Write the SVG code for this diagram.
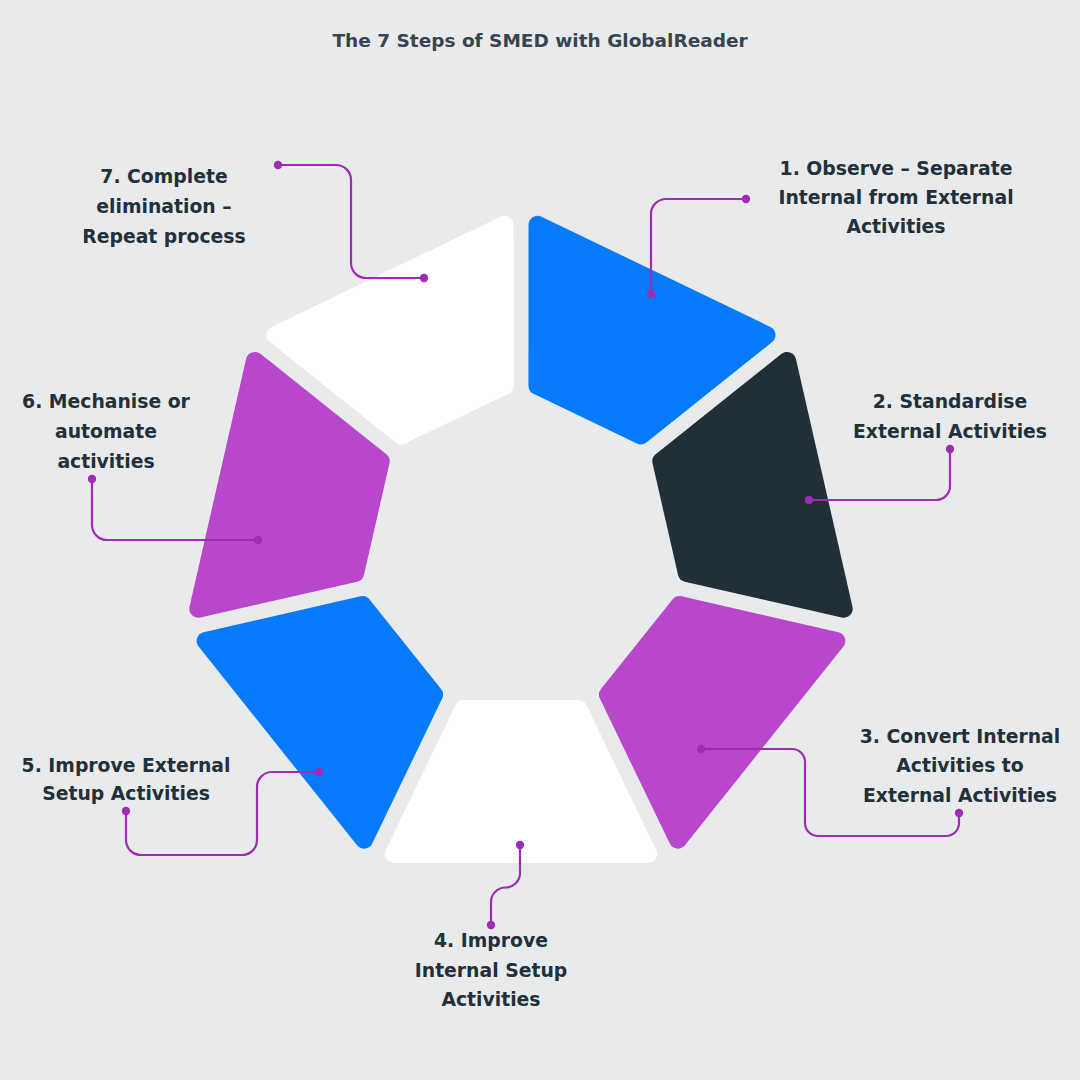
<svg xmlns="http://www.w3.org/2000/svg" xmlns:xlink="http://www.w3.org/1999/xlink" width="1080" height="1080" viewBox="0 0 1080 1080">
<style>
.lbl{font-family:"DejaVu Sans","Liberation Sans",sans-serif;font-weight:700;font-size:18.8px;fill:#22303A;text-anchor:middle}
.title{font-family:"DejaVu Sans","Liberation Sans",sans-serif;font-weight:700;font-size:18.5px;fill:#36454F;text-anchor:middle}
.con{fill:none;stroke:#9E2DB4;stroke-width:2.2}
.dot{fill:#9E2DB4}
</style>
<defs>
<path id="seg" d="M-57.35,148 H57.35 A9 9 0 0 1 65.45,153.09 L135.19,298.1 A9 9 0 0 1 127.08,311 H-127.08 A9 9 0 0 1 -135.19,298.1 L-65.45,153.09 A9 9 0 0 1 -57.35,148 Z"/>
</defs>
<rect width="1080" height="1080" fill="#E9EAEC"/>
<text class="title" x="540" y="47">The 7 Steps of SMED with GlobalReader</text>

<g id="step1">
<use xlink:href="#seg" href="#seg" fill="#057AFB" transform="translate(521,552) rotate(-154.2857)"/>
<text class="lbl" x="896" y="175">1. Observe – Separate</text>
<text class="lbl" x="896" y="204">Internal from External</text>
<text class="lbl" x="896" y="233">Activities</text>
</g>
<g id="step2">
<use xlink:href="#seg" href="#seg" fill="#212F38" transform="translate(521,552) rotate(-102.8571)"/>
<text class="lbl" x="950" y="408">2. Standardise</text>
<text class="lbl" x="950" y="438">External Activities</text>
</g>
<g id="step3">
<use xlink:href="#seg" href="#seg" fill="#B847CB" transform="translate(521,552) rotate(-51.4286)"/>
<text class="lbl" x="960" y="743">3. Convert Internal</text>
<text class="lbl" x="960" y="772">Activities to</text>
<text class="lbl" x="960" y="802">External Activities</text>
</g>
<g id="step4">
<use xlink:href="#seg" href="#seg" fill="#FFFFFF" transform="translate(521,552)"/>
<text class="lbl" x="491" y="947">4. Improve</text>
<text class="lbl" x="491" y="977">Internal Setup</text>
<text class="lbl" x="491" y="1006">Activities</text>
</g>
<g id="step5">
<use xlink:href="#seg" href="#seg" fill="#057AFB" transform="translate(521,552) rotate(51.4286)"/>
<text class="lbl" x="126" y="772">5. Improve External</text>
<text class="lbl" x="126" y="800">Setup Activities</text>
</g>
<g id="step6">
<use xlink:href="#seg" href="#seg" fill="#B847CB" transform="translate(521,552) rotate(102.8571)"/>
<text class="lbl" x="106" y="408">6. Mechanise or</text>
<text class="lbl" x="106" y="438">automate</text>
<text class="lbl" x="106" y="468">activities</text>
</g>
<g id="step7">
<use xlink:href="#seg" href="#seg" fill="#FFFFFF" transform="translate(521,552) rotate(154.2857)"/>
<text class="lbl" x="164" y="183">7. Complete</text>
<text class="lbl" x="164" y="213">elimination –</text>
<text class="lbl" x="164" y="243">Repeat process</text>
</g>

<g id="connectors">
<path class="con" d="M746,199 H666 A15 15 0 0 0 651,214 V294"/>
<circle class="dot" cx="746" cy="199" r="4.2"/><circle class="dot" cx="651" cy="294" r="4.2"/>
<path class="con" d="M950,449 V486 A14 14 0 0 1 936,500 H809"/>
<circle class="dot" cx="950" cy="449" r="4.2"/><circle class="dot" cx="809" cy="500" r="4.2"/>
<path class="con" d="M701,749 H792 A13 13 0 0 1 805,762 V823 A13 13 0 0 0 818,836 H946 A13 13 0 0 0 959,823 V813"/>
<circle class="dot" cx="701" cy="749" r="4.2"/><circle class="dot" cx="959" cy="813" r="4.2"/>
<path class="con" d="M520,845 V873 A14.5 14.5 0 0 1 505.5,887.5 A14.5 14.5 0 0 0 491,902 V925"/>
<circle class="dot" cx="520" cy="845" r="4.2"/><circle class="dot" cx="491" cy="925" r="4.2"/>
<path class="con" d="M319,772 H272 A15 15 0 0 0 257,787 V840 A15 15 0 0 1 242,855 H141 A15 15 0 0 1 126,840 V811"/>
<circle class="dot" cx="319" cy="772" r="4.2"/><circle class="dot" cx="126" cy="811" r="4.2"/>
<path class="con" d="M92,479 V525 A15 15 0 0 0 107,540 H258"/>
<circle class="dot" cx="92" cy="479" r="4.2"/><circle class="dot" cx="258" cy="540" r="4.2"/>
<path class="con" d="M278,165 H336 A15 15 0 0 1 351,180 V263 A15 15 0 0 0 366,278 H424"/>
<circle class="dot" cx="278" cy="165" r="4.2"/><circle class="dot" cx="424" cy="278" r="4.2"/>
</g>
</svg>
